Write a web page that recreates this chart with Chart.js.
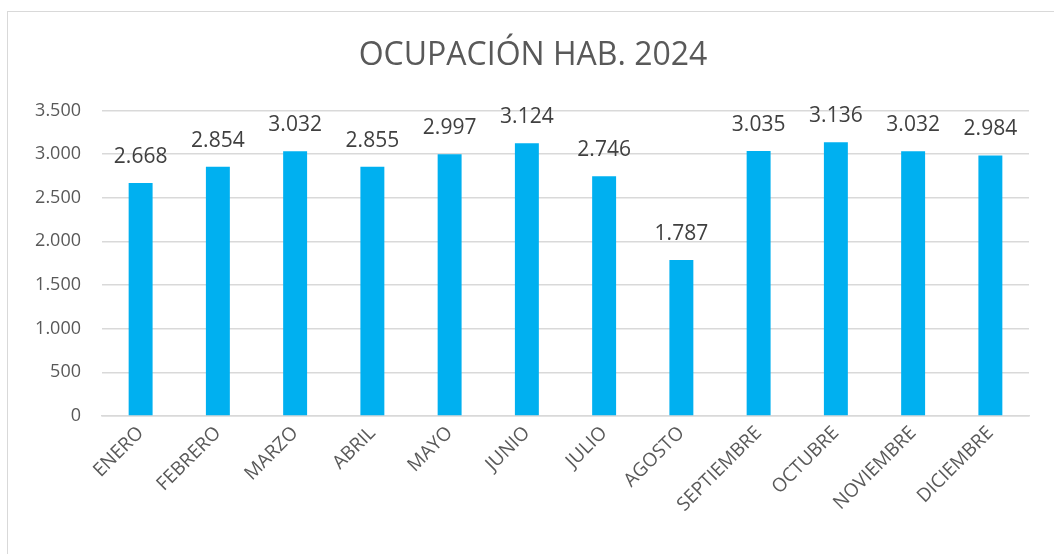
<!DOCTYPE html>
<html>
<head>
<meta charset="utf-8">
<script src="https://cdn.jsdelivr.net/npm/chart.js@4"></script>
<style>
  html, body { margin: 0; padding: 0; background: #fff; overflow: hidden; }
  #wrap { position: absolute; left: 0; top: 0; width: 1054px; height: 554px; }
  #frame { position: absolute; left: 7px; top: 11px; width: 1100px; height: 600px; border: 1px solid #d9d9d9; box-sizing: border-box; }
  canvas { position: absolute; left: 0; top: 0; }
</style>
</head>
<body>
<div id="wrap">
  <div id="frame"></div>
  <canvas id="chart" width="1054" height="554"></canvas>
</div>
<script>
const meses = ['ENERO', 'FEBRERO', 'MARZO', 'ABRIL', 'MAYO', 'JUNIO', 'JULIO', 'AGOSTO', 'SEPTIEMBRE', 'OCTUBRE', 'NOVIEMBRE', 'DICIEMBRE'];
const ocupacion = [2668, 2854, 3032, 2855, 2997, 3124, 2746, 1787, 3035, 3136, 3032, 2984];
const yMax = 3500;
const yStep = 500;

const fontFam = '"Open Sans", sans-serif';

function fmt(n) {
    return String(n).replace(/\B(?=(\d{3})+(?!\d))/g, '.');
}

// etiquetas de datos encima de cada barra
const valueLabels = {
    id: 'valueLabels',
    afterDatasetsDraw(chart) {
        const ctx = chart.ctx;
        const meta = chart.getDatasetMeta(0);
        ctx.save();
        ctx.font = '21px ' + fontFam;
        ctx.fillStyle = '#404040';
        ctx.textAlign = 'center';
        ctx.textBaseline = 'middle';
        meta.data.forEach((bar, i) => {
            ctx.fillText(fmt(chart.data.datasets[0].data[i]), bar.x, bar.y - 26);
        });
        ctx.restore();
    }
};

const ctx = document.getElementById('chart').getContext('2d');
new Chart(ctx, {
    type: 'bar',
    data: {
        labels: meses,
        datasets: [{
            label: 'Ocupación',
            data: ocupacion,
            backgroundColor: '#00B0F0',
            categoryPercentage: 1,
            barPercentage: 0.31
        }]
    },
    options: {
        responsive: false,
        animation: false,
        layout: { padding: { left: 12, right: 0, top: 0, bottom: 0 } },
        plugins: {
            legend: { display: false },
            tooltip: { enabled: false },
            title: {
                display: true,
                text: 'OCUPACIÓN HAB. 2024',
                color: '#595959',
                font: { family: fontFam, size: 32, weight: 'normal', lineHeight: 1.2 },
                padding: { top: 37, bottom: 35 }
            }
        },
        scales: {
            x: {
                grid: { display: false, drawTicks: false },
                border: { display: true, color: '#d9d9d9', width: 1.5 },
                ticks: {
                    color: '#595959',
                    font: { family: fontFam, size: 19 },
                    maxRotation: 45,
                    minRotation: 45,
                    padding: 6,
                    autoSkip: false
                },
                afterFit(scale) { scale.height = 138; }
            },
            y: {
                min: 0,
                max: yMax,
                grid: { color: '#d9d9d9', lineWidth: 1.5, drawTicks: false },
                border: { display: false },
                ticks: {
                    stepSize: yStep,
                    color: '#595959',
                    font: { family: fontFam, size: 18 },
                    padding: 21,
                    callback: v => fmt(v)
                },
                afterFit(scale) { scale.width = 90; }
            },
            // eje vacío a la derecha, solo reserva margen
            yRight: {
                position: 'right',
                min: 0,
                max: yMax,
                grid: { display: false, drawTicks: false },
                border: { display: false },
                ticks: { display: false },
                afterFit(scale) { scale.width = 25; }
            }
        }
    },
    plugins: [valueLabels]
});
</script>
</body>
</html>
